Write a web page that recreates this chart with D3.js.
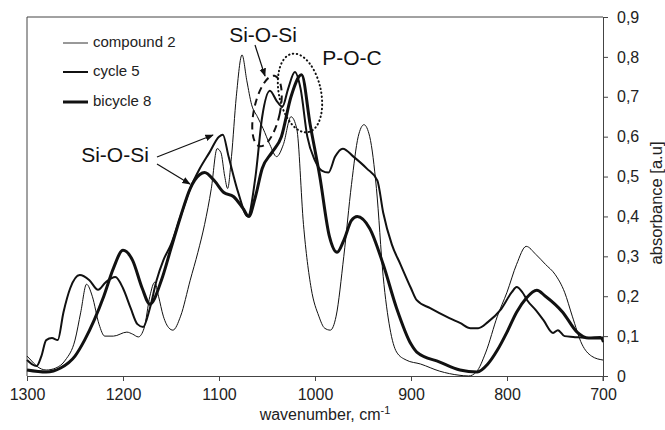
<html>
<head>
    <script src="https://d3js.org/d3.v7.min.js"></script>
    <style>
        body {
            margin: 0;
            font-family: Arial, "Liberation Sans", sans-serif;
            background: #fff;
        }

        .axis text {
            font-size: 16px;
            fill: #222;
        }

        .axis path,
        .axis line {
            stroke: #444;
        }

        .spectrum {
            fill: none;
            stroke: #111;
            stroke-linejoin: round;
        }
    </style>
</head>

<body>
    <svg width="665" height="430"></svg>
    <script>

        const width = 665;
        const height = 430;
        const margin = { top: 17, right: 62, bottom: 54, left: 27 };
        const chartWidth = width - margin.left - margin.right;
        const chartHeight = height - margin.top - margin.bottom;

        // x ticks (wavenumber) and y ticks (absorbance)
        const xTicks = [1300, 1200, 1100, 1000, 900, 800, 700];
        const yTicks = [0, 0.1, 0.2, 0.3, 0.4, 0.5, 0.6, 0.7, 0.8, 0.9];

        // compound 2 (thin line)
        const compoundWn = [1300, 1296, 1290, 1280, 1270, 1260, 1250, 1244, 1238, 1232, 1225, 1219, 1210, 1196, 1190, 1184, 1178, 1172, 1167, 1163, 1158, 1152, 1148, 1140, 1130, 1122, 1115, 1108, 1102, 1098, 1094, 1091, 1087, 1082, 1076, 1071, 1066, 1060, 1054, 1047, 1040, 1033, 1025, 1019, 1012, 1004, 996, 990, 984, 978, 970, 962, 955, 949, 943, 936, 929, 922, 915, 905, 890, 870, 850, 840, 832, 822, 810, 800, 790, 780, 770, 760, 750, 740, 732, 722, 712, 700];
        const compoundAbs = [0.05, 0.04, 0.025, 0.015, 0.02, 0.04, 0.09, 0.16, 0.23, 0.2, 0.13, 0.1, 0.1, 0.11, 0.105, 0.098, 0.12, 0.2, 0.235, 0.2, 0.15, 0.12, 0.115, 0.15, 0.24, 0.31, 0.38, 0.47, 0.57, 0.56, 0.5, 0.47, 0.55, 0.7, 0.805, 0.74, 0.68, 0.65, 0.62, 0.58, 0.55, 0.58, 0.65, 0.62, 0.38, 0.22, 0.15, 0.12, 0.115, 0.15, 0.3, 0.48, 0.6, 0.63, 0.6, 0.47, 0.25, 0.12, 0.06, 0.04, 0.03, 0.012, 0.002, 0, 0.01, 0.06, 0.15, 0.21, 0.28, 0.325, 0.305, 0.28, 0.255, 0.21, 0.15, 0.08, 0.05, 0.04];

        // cycle 5 (medium line)
        const cycleWn = [1300, 1295, 1290, 1285, 1280, 1274, 1268, 1262, 1255, 1245, 1235, 1226, 1218, 1208, 1200, 1192, 1185, 1179, 1172, 1165, 1158, 1150, 1140, 1130, 1120, 1110, 1100, 1096, 1090, 1080, 1070, 1062, 1055, 1047, 1040, 1034, 1028, 1021, 1015, 1008, 1000, 993, 986, 979, 971, 960, 946, 935, 929, 920, 911, 900, 894, 880, 860, 849, 838, 830, 820, 807, 795, 790, 784, 779, 770, 762, 752, 747, 740, 731, 715, 703, 700];
        const cycleAbs = [0.04, 0.03, 0.025, 0.05, 0.09, 0.095, 0.09, 0.16, 0.22, 0.253, 0.24, 0.216, 0.235, 0.248, 0.22, 0.17, 0.13, 0.123, 0.17, 0.24, 0.29, 0.33, 0.4, 0.47, 0.52, 0.56, 0.6, 0.605, 0.55, 0.46, 0.4, 0.5, 0.65, 0.715, 0.69, 0.675, 0.72, 0.762, 0.72, 0.6, 0.54, 0.515, 0.51, 0.55, 0.57, 0.55, 0.52, 0.49, 0.41, 0.33, 0.28, 0.22, 0.19, 0.17, 0.145, 0.133, 0.12, 0.12, 0.135, 0.165, 0.21, 0.223, 0.21, 0.19, 0.165, 0.14, 0.108, 0.115, 0.1, 0.098, 0.095, 0.098, 0.085];

        // bicycle 8 (thick line)
        const bicycleWn = [1300, 1280, 1265, 1250, 1240, 1230, 1220, 1210, 1200, 1190, 1180, 1172, 1160, 1150, 1140, 1130, 1120, 1115, 1105, 1095, 1085, 1075, 1069, 1062, 1055, 1045, 1035, 1025, 1014, 1005, 995, 985, 977, 970, 962, 956, 943, 929, 915, 900, 894, 870, 849, 831, 820, 810, 800, 790, 780, 769, 760, 742, 727, 715, 700];
        const bicycleAbs = [0.015, 0.01, 0.02, 0.05, 0.09, 0.14, 0.2, 0.27, 0.315, 0.29, 0.22, 0.18, 0.24, 0.32, 0.4, 0.47, 0.505, 0.51, 0.49, 0.46, 0.45, 0.42, 0.4, 0.45, 0.52, 0.56, 0.6, 0.7, 0.755, 0.63, 0.5, 0.35, 0.31, 0.34, 0.39, 0.4, 0.37, 0.28, 0.17, 0.08, 0.06, 0.035, 0.015, 0.01, 0.03, 0.065, 0.11, 0.16, 0.195, 0.215, 0.2, 0.16, 0.11, 0.095, 0.095];

        const seriesNames = ["compound 2", "cycle 5", "bicycle 8"];
        const seriesWidths = [1, 2, 3];

        const series = [
            compoundWn.map((w, i) => ({ wn: w, abs: compoundAbs[i] })),
            cycleWn.map((w, i) => ({ wn: w, abs: cycleAbs[i] })),
            bicycleWn.map((w, i) => ({ wn: w, abs: bicycleAbs[i] }))
        ];

        const svg = d3.select("svg")
            .append("g")
            .attr("transform", `translate(${margin.left},${margin.top})`);

        // Scales (wavenumber decreases to the right)
        const xScale = d3.scaleLinear()
            .domain([1300, 700])
            .range([0, chartWidth]);

        const yScale = d3.scaleLinear()
            .domain([0, 0.9])
            .range([chartHeight, 0]);

        // frame: top and left edges
        svg.append("path")
            .attr("d", `M0,${chartHeight}V0H${chartWidth}`)
            .attr("fill", "none")
            .attr("stroke", "#444");

        // bottom axis
        const bottomAxis = d3.axisBottom(xScale)
            .tickValues(xTicks)
            .tickSize(5)
            .tickSizeOuter(0)
            .tickPadding(8)
            .tickFormat(d3.format("d"));

        svg.append("g")
            .attr("class", "axis")
            .attr("transform", `translate(0, ${chartHeight})`)
            .call(bottomAxis);

        // right axis, decimal comma
        const rightAxis = d3.axisRight(yScale)
            .tickValues(yTicks)
            .tickSize(5)
            .tickSizeOuter(0)
            .tickPadding(9)
            .tickFormat(d => d === 0 ? "0" : d3.format(".1f")(d).replace(".", ","));

        svg.append("g")
            .attr("class", "axis")
            .attr("transform", `translate(${chartWidth}, 0)`)
            .call(rightAxis);

        // right axis runs a little below the bottom line
        svg.append("line")
            .attr("x1", chartWidth).attr("x2", chartWidth)
            .attr("y1", chartHeight).attr("y2", chartHeight + 5)
            .attr("stroke", "#444");

        // spectra
        const line = d3.line()
            .x(d => xScale(d.wn))
            .y(d => yScale(d.abs))
            .curve(d3.curveMonotoneX);

        svg.selectAll(".spectrum")
            .data(series)
            .join("path")
            .attr("class", "spectrum")
            .attr("stroke", (d, i) => i === 0 ? "#333" : "#111")
            .attr("stroke-width", (d, i) => seriesWidths[i])
            .attr("d", line);

        // axis labels
        const xLabel = svg.append("text")
            .attr("x", 298)
            .attr("y", chartHeight + 44)
            .attr("text-anchor", "middle")
            .style("font-size", "16px")
            .style("fill", "#222");
        xLabel.append("tspan").text("wavenumber,  cm");
        xLabel.append("tspan").attr("dy", -6).style("font-size", "11px").text("-1");

        svg.append("text")
            .attr("transform", `translate(${chartWidth + 59}, 186) rotate(-90)`)
            .attr("text-anchor", "middle")
            .style("font-size", "16.5px")
            .style("fill", "#222")
            .text("absorbance [a.u]");

        // legend
        const legendY = [26, 55, 85];
        seriesNames.forEach((name, i) => {
            svg.append("line")
                .attr("x1", 36).attr("x2", 61)
                .attr("y1", legendY[i]).attr("y2", legendY[i])
                .attr("stroke", i === 0 ? "#333" : "#111")
                .attr("stroke-width", seriesWidths[i]);
            svg.append("text")
                .attr("x", 66)
                .attr("y", legendY[i])
                .attr("dominant-baseline", "middle")
                .style("font-size", "15px")
                .style("fill", "#222")
                .text(name);
        });

        // annotations
        const defs = d3.select("svg").append("defs");
        defs.append("marker")
            .attr("id", "arrow")
            .attr("viewBox", "0 0 10 10")
            .attr("refX", 9).attr("refY", 5)
            .attr("markerWidth", 7).attr("markerHeight", 7)
            .attr("orient", "auto")
            .append("path")
            .attr("d", "M0,1L10,5L0,9Z")
            .attr("fill", "#111");

        const noteStyle = sel => sel.style("font-size", "21px").style("fill", "#111");

        svg.append("text").attr("x", 236).attr("y", 25).attr("text-anchor", "middle").call(noteStyle).text("Si-O-Si");
        svg.append("text").attr("x", 325).attr("y", 48).attr("text-anchor", "middle").call(noteStyle).text("P-O-C");
        svg.append("text").attr("x", 88).attr("y", 145).attr("text-anchor", "middle").call(noteStyle).text("Si-O-Si");

        const arrows = [
            [228, 28, 238, 59],
            [130, 140, 186, 118],
            [130, 147, 163, 167]
        ];
        svg.selectAll(".arrow")
            .data(arrows)
            .join("line")
            .attr("class", "arrow")
            .attr("x1", d => d[0]).attr("y1", d => d[1])
            .attr("x2", d => d[2]).attr("y2", d => d[3])
            .attr("stroke", "#111")
            .attr("stroke-width", 1.2)
            .attr("marker-end", "url(#arrow)");

        // dashed ellipse around the 1047 band
        svg.append("ellipse")
            .attr("transform", "translate(240, 94) rotate(12)")
            .attr("rx", 13).attr("ry", 36)
            .attr("fill", "none")
            .attr("stroke", "#111")
            .attr("stroke-width", 2)
            .attr("stroke-dasharray", "7,5");

        // dotted ellipse around the P-O-C band
        svg.append("ellipse")
            .attr("transform", "translate(273, 76) rotate(-12)")
            .attr("rx", 21).attr("ry", 40)
            .attr("fill", "none")
            .attr("stroke", "#111")
            .attr("stroke-width", 2)
            .attr("stroke-linecap", "round")
            .attr("stroke-dasharray", "0.5,3.5");

    </script>
</body>

</html>
